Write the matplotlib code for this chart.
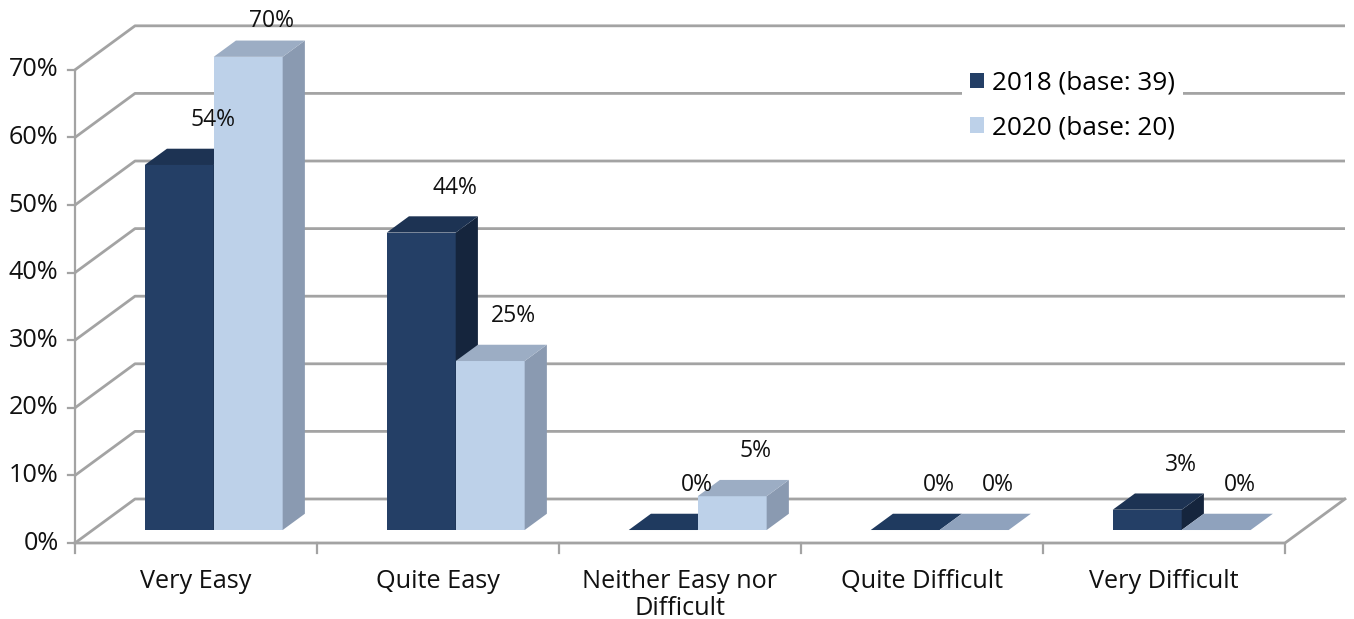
import matplotlib
matplotlib.use("Agg")
import matplotlib.pyplot as plt
from matplotlib.patches import Polygon, Patch

# ---- data -------------------------------------------------------------
categories = ["Very Easy", "Quite Easy", "Neither Easy nor\nDifficult",
              "Quite Difficult", "Very Difficult"]
values_2018 = [54, 44, 0, 0, 3]
values_2020 = [70, 25, 5, 0, 0]
series_labels = ["2018 (base: 39)", "2020 (base: 20)"]
y_ticks = [0, 10, 20, 30, 40, 50, 60, 70]
y_tick_labels = ["0%", "10%", "20%", "30%", "40%", "50%", "60%", "70%"]

# ---- styling ----------------------------------------------------------
plt.rcParams["font.family"] = ["Open Sans", "DejaVu Sans"]
FS_AXIS = 18.2
FS_LABEL = 16.5
GRID = "#a3a3a3"
# (front, top, side) shades for each series
SHADES = [("#243f66", "#1d3353", "#15253d"),
          ("#bdd1e9", "#9cadc4", "#8a9ab1")]
FLAT = ["#1f3a5f", "#8fa2bd"]

# oblique depth offset of the chart floor, in data units
DX, DY = 0.248, 6.51
BAR_W = 0.285           # width of one bar, in category units
D0, D1 = 0.295, 0.665   # front / back depth fraction of the bars


def proj(x, y, d):
    return (x + d * DX, y + d * DY)


fig = plt.figure(figsize=(13.54, 6.19), dpi=100)
ax = fig.add_axes([75 / 1354, 76 / 619, 1270 / 1354, 523 / 619])
n = len(categories)
ax.set_xlim(0, n + DX)
ax.set_ylim(0, 77.37)
ax.axis("off")

# back wall gridlines (left wall diagonal + back line)
for t in y_ticks:
    pts = [proj(0, t, 0), proj(0, t, 1), proj(n, t, 1)]
    ax.plot([p[0] for p in pts], [p[1] for p in pts], color=GRID, lw=2.0,
            solid_capstyle="butt", zorder=1, clip_on=False)

# floor front edge and right edge
pts = [proj(0, 0, 0), proj(n, 0, 0), proj(n, 0, 1)]
ax.plot([p[0] for p in pts], [p[1] for p in pts], color=GRID, lw=2.0,
        zorder=1, clip_on=False)

# front value axis with ticks and labels
ax.plot([0, 0], [0, y_ticks[-1]], color=GRID, lw=1.6, zorder=1, clip_on=False)
for t, lab in zip(y_ticks, y_tick_labels):
    ax.plot([-0.03, 0], [t, t], color=GRID, lw=1.6, zorder=1, clip_on=False)
    ax.text(-0.068, t, lab, ha="right", va="center", fontsize=FS_AXIS,
            color="#111111", clip_on=False)

# category ticks and labels
for i in range(n + 1):
    ax.plot([i, i], [0, -1.5], color=GRID, lw=1.6, zorder=1, clip_on=False)
for i, lab in enumerate(categories):
    ax.text(i + 0.5, -3.8, lab, ha="center", va="top", fontsize=FS_AXIS,
            color="#111111", linespacing=1.12, clip_on=False)

# 3D bars
series = [values_2018, values_2020]
label_dx = [0.281, 0.24]
for i in range(n):
    for s, vals in enumerate(series):
        v = vals[i]
        a = i + 0.5 - BAR_W + s * BAR_W
        front, top, side = SHADES[s]
        z = 3 + i * 2 + s
        if v > 0:
            ax.add_patch(Polygon([proj(a, 0, D0), proj(a + BAR_W, 0, D0),
                                  proj(a + BAR_W, v, D0), proj(a, v, D0)],
                                 closed=True, fc=front, ec="none", zorder=z))
            ax.add_patch(Polygon([proj(a + BAR_W, 0, D0), proj(a + BAR_W, 0, D1),
                                  proj(a + BAR_W, v, D1), proj(a + BAR_W, v, D0)],
                                 closed=True, fc=side, ec="none", zorder=z))
            top_fc = top
        else:
            top_fc = FLAT[s]
        ax.add_patch(Polygon([proj(a, v, D0), proj(a + BAR_W, v, D0),
                              proj(a + BAR_W, v, D1), proj(a, v, D1)],
                             closed=True, fc=top_fc, ec="none", zorder=z))
        lx, ly = proj(a + label_dx[s], v, D0)
        ly = min(ly + 6.66, 77.2)
        ax.text(lx, ly, f"{v}%", ha="center", va="center", fontsize=FS_LABEL,
                color="#111111", zorder=20, clip_on=False)

# legend
handles = [Patch(fc=SHADES[s][0], ec="none") for s in range(2)]
leg = fig.legend(handles, series_labels, loc="upper left",
                 bbox_to_anchor=(962 / 1354, 1 - 63 / 619), fontsize=18.8,
                 frameon=True, fancybox=False, facecolor="white",
                 edgecolor="none", framealpha=1.0, handlelength=0.55,
                 handleheight=0.55, handletextpad=0.3, labelspacing=0.75,
                 borderpad=0.3, borderaxespad=0)
leg.set_zorder(30)

fig.savefig("out.png", dpi=100, facecolor="white")
